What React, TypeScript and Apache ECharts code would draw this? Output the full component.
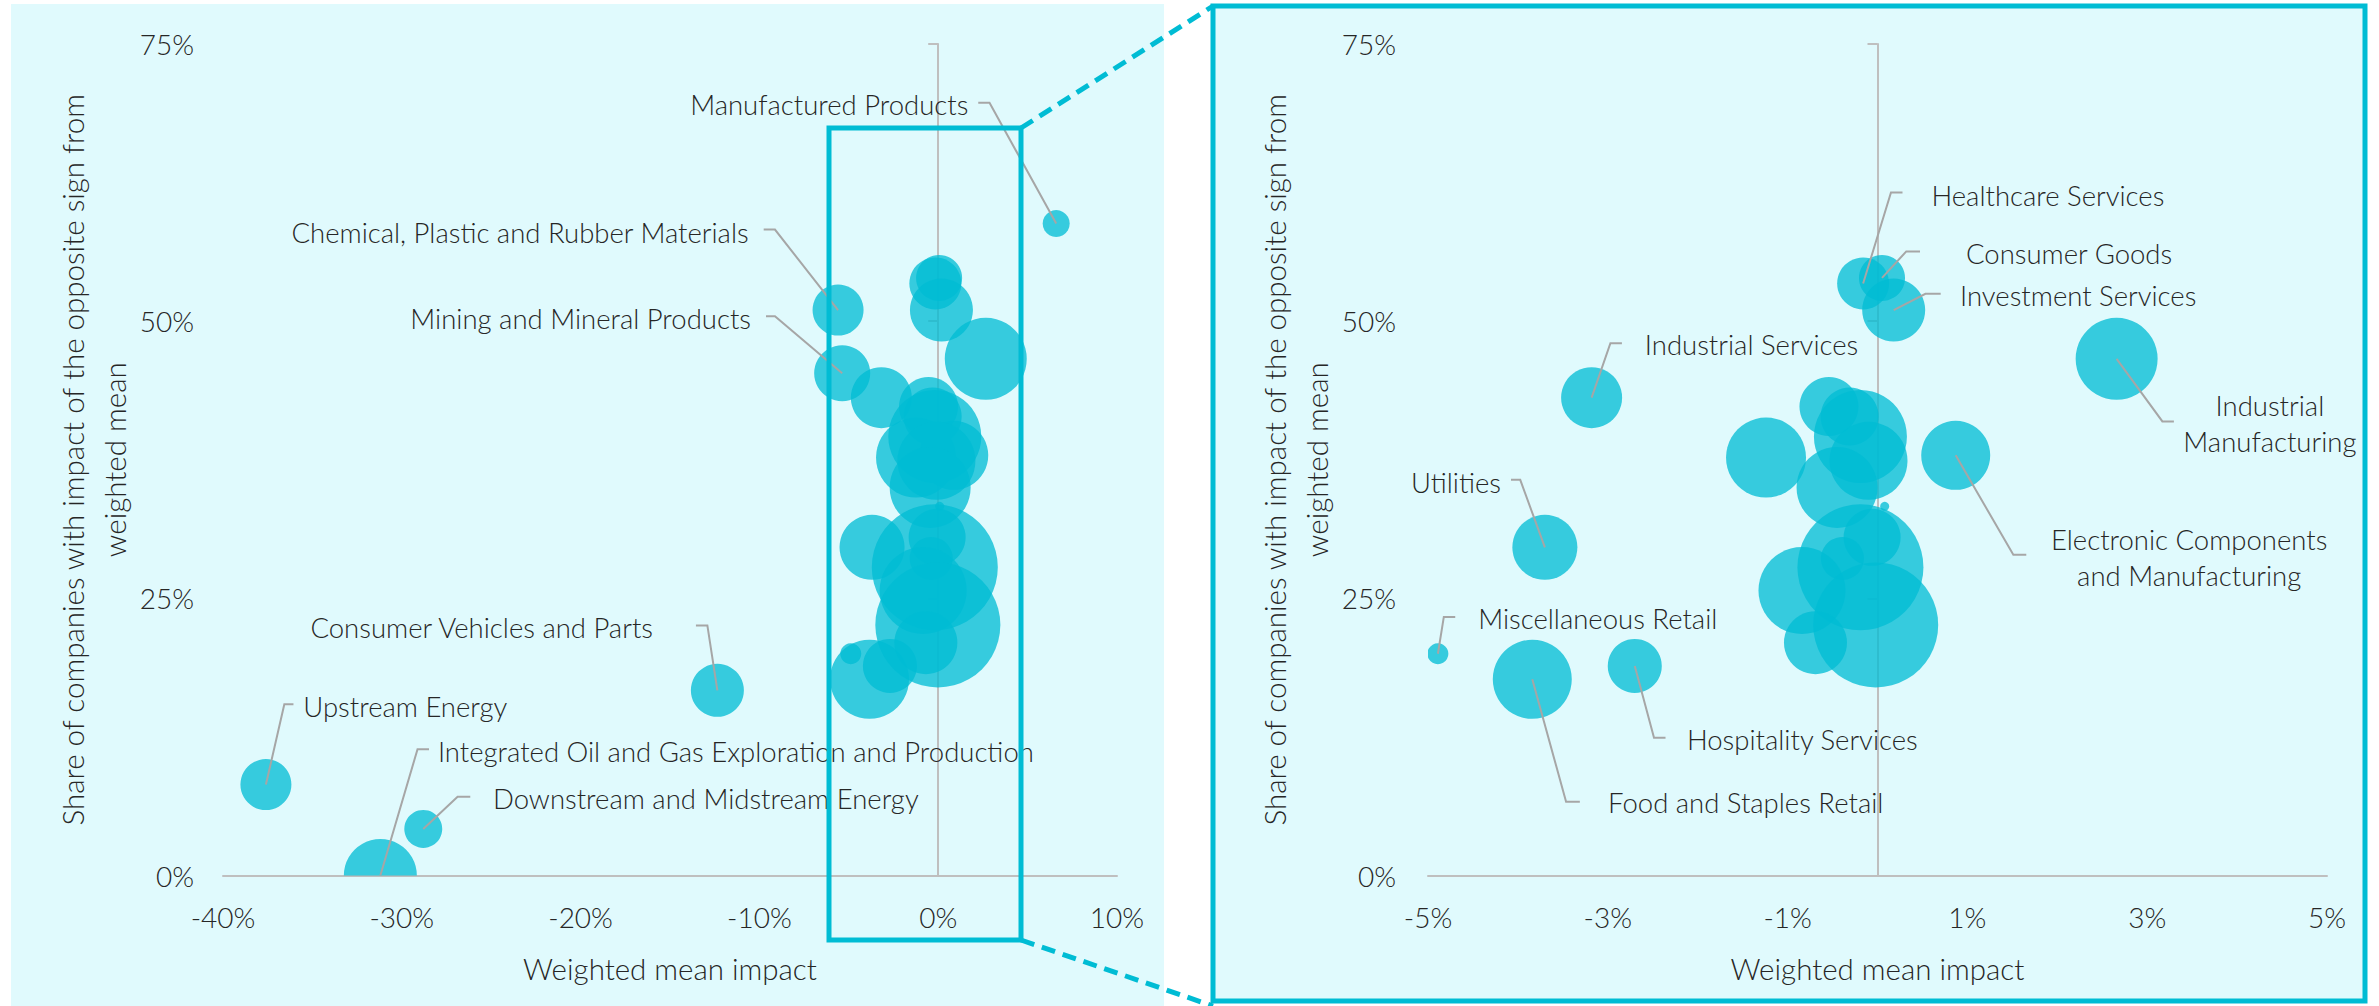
import React, { useEffect, useRef } from "react";
import * as echarts from "echarts";

// ---------- data ----------
const sectors: string[] = [
  "Manufactured Products",
  "Chemical, Plastic and Rubber Materials",
  "Mining and Mineral Products",
  "Consumer Vehicles and Parts",
  "Upstream Energy",
  "Integrated Oil and Gas Exploration and Production",
  "Downstream and Midstream Energy",
  "Healthcare Services",
  "Consumer Goods",
  "Investment Services",
  "Industrial Manufacturing",
  "Industrial Services",
  "Utilities",
  "Miscellaneous Retail",
  "Food and Staples Retail",
  "Hospitality Services",
  "Electronic Components and Manufacturing",
  "", "", "", "", "", "", "", "", "", "", "", "", "",
];

// Weighted mean impact (%)
const weightedImpact: number[] = [
  6.6, -5.6, -5.37, -12.35, -37.6, -31.2, -28.8, -0.16, 0.05, 0.18, 2.66, -3.18, -3.7, -4.89, -3.84,
  -2.7, 0.87, -1.24, -0.54, -0.31, -0.19, -0.1, -0.45, 0.08, -0.19, -0.06, -0.39, -0.84, -0.02, -0.69,
];

// Share of companies with impact of the opposite sign (%)
const oppositeShare: number[] = [
  58.8, 51.0, 45.3, 16.7, 8.2, 0, 4.2, 53.4, 53.9, 51.0, 46.6, 43.1, 29.6, 20.0, 17.7,
  18.9, 37.9, 37.7, 42.3, 41.4, 39.6, 37.4, 35.0, 33.3, 27.8, 30.5, 28.6, 25.7, 22.6, 21.0,
];

// Bubble size (relative weight)
const bubbleWeight: number[] = [
  7.3, 26, 31.4, 28.1, 26, 53.3, 14.4, 27, 21.2, 39.7, 67.2, 37.2, 42.3, 4.4, 62.4,
  29.2, 47.6, 64, 34.8, 33.6, 86.5, 60.8, 65.6, 0.8, 158.8, 32.5, 18.5, 75.7, 156.3, 39.7,
];

const leftXRange = [-40, 10];
const leftXStep = 10;
const rightXRange = [-5, 5];
const rightXStep = 2;
const yRange = [0, 75];
const yStep = 25;

const xTitle = "Weighted mean impact";
const yTitle = "Share of companies with impact of the opposite sign from\nweighted mean";

// ---------- label layout (data coordinates) ----------
type Align = "left" | "right" | "center";
interface LabelSpec {
  i: number;
  text?: string;
  elbow: [number, number];
  end: [number, number];
  at: [number, number];
  align: Align;
}

const leftLabels: LabelSpec[] = [
  { i: 0, elbow: [2.87, 69.71], end: [2.24, 69.71], at: [1.69, 69.53], align: "right" },
  { i: 1, elbow: [-9.13, 58.26], end: [-9.76, 58.26], at: [-10.6, 58.02], align: "right" },
  { i: 2, elbow: [-9.13, 50.45], end: [-9.63, 50.45], at: [-10.47, 50.21], align: "right" },
  { i: 3, elbow: [-12.91, 22.56], end: [-13.55, 22.56], at: [-15.95, 22.39], align: "right" },
  { i: 4, elbow: [-36.57, 15.44], end: [-36.06, 15.44], at: [-35.51, 15.21], align: "left" },
  { i: 5, elbow: [-29.12, 11.39], end: [-28.48, 11.39], at: [-27.98, 11.16], align: "left" },
  { i: 6, elbow: [-26.88, 7.11], end: [-26.17, 7.11], at: [-24.9, 6.94], align: "left" },
];

const rightLabels: LabelSpec[] = [
  { i: 7, elbow: [0.15, 61.61], end: [0.278, 61.61], at: [0.6, 61.32], align: "left" },
  { i: 8, elbow: [0.32, 56.29], end: [0.473, 56.29], at: [0.984, 56.11], align: "left" },
  { i: 9, elbow: [0.533, 52.47], end: [0.703, 52.47], at: [0.918, 52.3], align: "left" },
  { i: 11, elbow: [-2.971, 48.01], end: [-2.843, 48.01], at: [-2.588, 47.89], align: "left" },
  { i: 10, text: "Industrial\nManufacturing", elbow: [3.169, 40.96], end: [3.297, 40.96], at: [4.365, 40.78], align: "center" },
  { i: 12, elbow: [-3.974, 35.69], end: [-4.077, 35.69], at: [-4.188, 35.46], align: "right" },
  { i: 16, text: "Electronic Components\nand Manufacturing", elbow: [1.511, 28.93], end: [1.655, 28.93], at: [3.467, 28.72], align: "center" },
  { i: 13, elbow: [-4.824, 23.32], end: [-4.697, 23.32], at: [-4.442, 23.14], align: "left" },
  { i: 15, elbow: [-2.486, 12.43], end: [-2.358, 12.43], at: [-2.12, 12.31], align: "left" },
  { i: 14, elbow: [-3.464, 6.65], end: [-3.311, 6.65], at: [-2.997, 6.54], align: "left" },
];

// ---------- styles ----------
const FONT = "Lato";
const TXT = "#262626";
const AXC = "#BFBFBF";
const CYAN = "#00BCD4";
const BG = "#E0FAFD";
const LEAD = "#A6A6A6";

export default function App() {
  const ref = useRef<HTMLDivElement>(null);

  useEffect(() => {
    if (!ref.current) return;
    const chart = echarts.init(ref.current, null, { renderer: "svg" });

    const points = weightedImpact.map((v, k) => [v, oppositeShare[k], bubbleWeight[k]]);

    const bubbleSeries = (g: number) => ({
      type: "custom",
      xAxisIndex: g,
      yAxisIndex: g * 2,
      clip: true,
      z: 2,
      silent: true,
      data: points,
      renderItem: (_p: any, api: any) => {
        const c = api.coord([api.value(0), api.value(1)]);
        const r = 5 * Math.sqrt(api.value(2));
        return {
          type: "circle",
          shape: { cx: c[0], cy: c[1], r },
          style: { fill: "rgba(0,188,212,0.76)" },
        };
      },
    });

    const labelSeries = (g: number, specs: LabelSpec[]) => ({
      type: "custom",
      xAxisIndex: g,
      yAxisIndex: g * 2,
      clip: false,
      z: 5,
      silent: true,
      data: specs.map((s) => [weightedImpact[s.i], oppositeShare[s.i]]),
      renderItem: (params: any, api: any) => {
        const s = specs[params.dataIndex];
        const p0 = api.coord([weightedImpact[s.i], oppositeShare[s.i]]);
        const p1 = api.coord(s.elbow);
        const p2 = api.coord(s.end);
        const t = api.coord(s.at);
        return {
          type: "group",
          children: [
            {
              type: "polyline",
              shape: { points: [p0, p1, p2] },
              style: { stroke: LEAD, lineWidth: 2, fill: "none" },
            },
            {
              type: "text",
              x: t[0],
              y: t[1],
              style: {
                text: s.text ?? sectors[s.i],
                align: s.align,
                verticalAlign: "middle",
                fontFamily: FONT,
                fontSize: 27.5,
                fontWeight: 300,
                lineHeight: 36,
                fill: TXT,
              },
            },
          ],
        };
      },
    });

    const labelFont = { fontFamily: FONT, fontSize: 28, fontWeight: 300, color: TXT };
    const nameFont = { fontFamily: FONT, fontSize: 29.5, fontWeight: 300, color: TXT, lineHeight: 42 };

    const xAxis = (g: number, range: number[], step: number) => ({
      type: "value",
      gridIndex: g,
      min: range[0],
      max: range[1],
      interval: step,
      axisLine: { show: true, onZero: false, lineStyle: { color: AXC, width: 2 } },
      axisTick: { show: false },
      splitLine: { show: false },
      axisLabel: { formatter: "{value}%", margin: 27, ...labelFont },
      name: xTitle,
      nameLocation: "middle",
      nameGap: 72,
      nameTextStyle: nameFont,
    });

    const yLineAxis = (g: number) => ({
      type: "value",
      gridIndex: g,
      min: yRange[0],
      max: yRange[1],
      interval: yStep,
      position: "left",
      axisLine: { show: true, onZero: true, lineStyle: { color: AXC, width: 2 } },
      axisTick: { show: true, length: 10, lineStyle: { color: AXC, width: 2 } },
      axisLabel: { show: false },
      splitLine: { show: false },
    });

    const yLabelAxis = (g: number, margin: number, gap: number) => ({
      type: "value",
      gridIndex: g,
      min: yRange[0],
      max: yRange[1],
      interval: yStep,
      position: "left",
      axisLine: { show: false, onZero: false },
      axisTick: { show: false },
      splitLine: { show: false },
      axisLabel: { formatter: "{value}%", margin, ...labelFont },
      name: yTitle,
      nameLocation: "middle",
      nameGap: gap,
      nameTextStyle: nameFont,
    });

    chart.setOption({
      animation: false,
      grid: [
        { left: 223, top: 44, width: 894, height: 831.5 },
        { left: 1428, top: 44, width: 899, height: 831.5 },
      ],
      xAxis: [xAxis(0, leftXRange, leftXStep), xAxis(1, rightXRange, rightXStep)],
      yAxis: [yLineAxis(0), yLabelAxis(0, 29, 88), yLineAxis(1), yLabelAxis(1, 32, 90)],
      graphic: [
        { type: "rect", z: -10, silent: true, shape: { x: 11, y: 4, width: 1153, height: 1002 }, style: { fill: BG } },
        {
          type: "rect",
          z: -10,
          silent: true,
          shape: { x: 1213, y: 6, width: 1152, height: 995 },
          style: { fill: BG, stroke: CYAN, lineWidth: 5 },
        },
        {
          type: "rect",
          z: 100,
          silent: true,
          shape: { x: 829, y: 128, width: 192, height: 812 },
          style: { fill: "none", stroke: CYAN, lineWidth: 5 },
        },
        {
          type: "line",
          z: 100,
          silent: true,
          shape: { x1: 1021, y1: 128, x2: 1213, y2: 6 },
          style: { stroke: CYAN, lineWidth: 5, lineDash: [14, 8] },
        },
        {
          type: "line",
          z: 100,
          silent: true,
          shape: { x1: 1021, y1: 940, x2: 1213, y2: 1006 },
          style: { stroke: CYAN, lineWidth: 5, lineDash: [14, 8] },
        },
      ],
      series: [bubbleSeries(0), bubbleSeries(1), labelSeries(0, leftLabels), labelSeries(1, rightLabels)],
    } as any);

    return () => chart.dispose();
  }, []);

  return (
    <div
      ref={ref}
      style={{ position: "absolute", left: 0, top: 0, width: 2379, height: 1006, background: "#ffffff" }}
    />
  );
}
